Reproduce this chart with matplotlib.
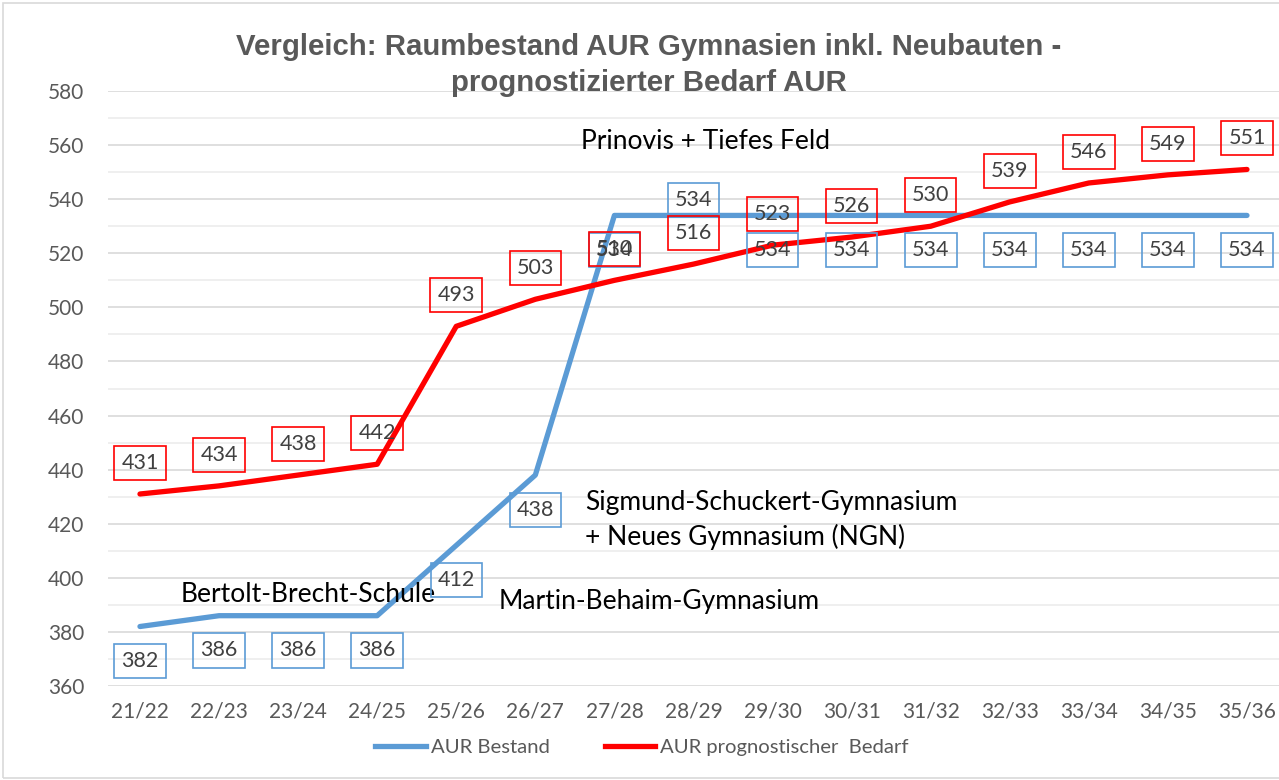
import matplotlib.pyplot as plt
from matplotlib.lines import Line2D
from matplotlib.patches import Rectangle

# school years and room counts (AUR)
jahre = ["21/22", "22/23", "23/24", "24/25", "25/26", "26/27", "27/28", "28/29",
         "29/30", "30/31", "31/32", "32/33", "33/34", "34/35", "35/36"]
bestand = [382, 386, 386, 386, 412, 438, 534, 534, 534, 534, 534, 534, 534, 534, 534]
bedarf = [431, 434, 438, 442, 493, 503, 510, 516, 523, 526, 530, 539, 546, 549, 551]

blau = "#5B9BD5"
rot = "#FF0000"
grau = "#595959"
font = ["Lato", "DejaVu Sans"]

plt.rcParams["font.family"] = font

fig = plt.figure(figsize=(12.79, 7.8), dpi=100)
ax = fig.add_axes([0.0844, 0.1205, 0.9156, 0.7628])

x = list(range(len(jahre)))
ax.plot(x, bestand, color=blau, lw=3.8, solid_capstyle="round", zorder=3)
ax.plot(x, bedarf, color=rot, lw=3.8, solid_capstyle="round", zorder=3)

ax.set_xlim(-0.405, 14.405)
ax.set_ylim(360, 580)
ax.set_yticks(range(360, 581, 20))
ax.set_yticks(range(370, 581, 20), minor=True)
ax.set_xticks(x)
ax.set_xticklabels(jahre)
ax.grid(axis="y", which="major", color="#d9d9d9", lw=1.2, zorder=0)
ax.grid(axis="y", which="minor", color="#ececec", lw=1.2, zorder=0)
ax.tick_params(axis="y", which="both", length=0, pad=17, labelsize=15, labelcolor=grau)
ax.tick_params(axis="x", length=0, pad=11, labelsize=15, labelcolor=grau)
for s in ax.spines.values():
    s.set_visible(False)

def label(xi, yi, dy, farbe):
    ax.annotate(str(yi), (xi, yi), textcoords="offset points",
                xytext=(0, dy), ha="center", va="center",
                fontsize=15.5, color="#404040", zorder=4,
                bbox=dict(boxstyle="square,pad=0.33", fc="none", ec=farbe, lw=1.2))

# Bestand labels sit below the line, except 28/29 which sits just above it
for xi, yi in zip(x, bestand):
    label(xi, yi, 11 if xi == 7 else -25, blau)
for xi, yi in zip(x, bedarf):
    label(xi, yi, 22.5, rot)

# notes on the chart
note = 19
ax.text(7.15, 561.5, "Prinovis + Tiefes Feld", ha="center", va="center", fontsize=note)
ax.text(5.63, 428, "Sigmund-Schuckert-Gymnasium", ha="left", va="center", fontsize=note)
ax.text(5.63, 415, "+ Neues Gymnasium (NGN)", ha="left", va="center", fontsize=note)
ax.text(0.52, 394, "Bertolt-Brecht-Schule", ha="left", va="center", fontsize=note)
ax.text(4.53, 391.4, "Martin-Behaim-Gymnasium", ha="left", va="center", fontsize=note)

fig.text(0.507, 0.917, "Vergleich: Raumbestand AUR Gymnasien inkl. Neubauten -\nprognostizierter Bedarf AUR",
         ha="center", va="center", fontsize=21.2, fontweight="bold", color=grau,
         family=["Liberation Sans", "DejaVu Sans"], linespacing=1.37)

handles = [Line2D([], [], color=blau, lw=3.8), Line2D([], [], color=rot, lw=3.8)]
fig.legend(handles, ["AUR Bestand", "AUR prognostischer  Bedarf"], loc="center",
           bbox_to_anchor=(0.502, 0.0423), ncol=2, frameon=False, fontsize=14.6,
           labelcolor=grau, handlelength=2.5, handletextpad=0.25, columnspacing=2.7)

fig.patches.append(Rectangle((0.002, 0.002), 1.2, 0.994, transform=fig.transFigure,
                             fill=False, ec="#d9d9d9", lw=1.2))

fig.savefig("out.png", dpi=100)
